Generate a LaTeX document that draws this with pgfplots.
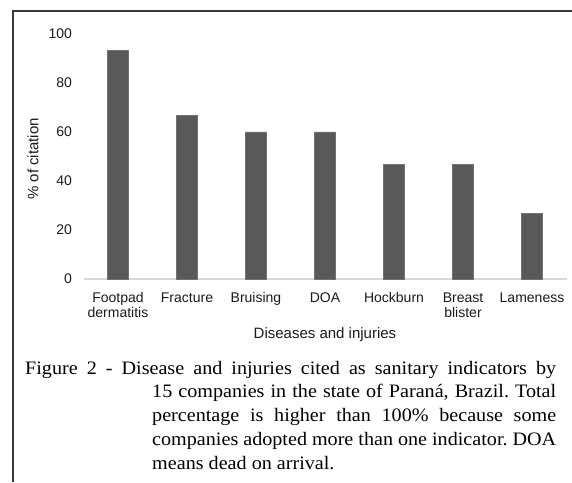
\documentclass[border=0pt]{standalone}
\usepackage{fontspec}
\setmainfont{Liberation Serif}[FakeStretch=1.06]
\newfontfamily\arial{Liberation Sans}
\usepackage{pgfplots}
\pgfplotsset{compat=1.18}
\definecolor{barc}{HTML}{595959}
\definecolor{basec}{HTML}{D9D9D9}
\definecolor{framec}{HTML}{3A3A3A}
\definecolor{txt}{HTML}{1A1A1A}
\begin{document}
\begin{tikzpicture}[x=1pt,y=1pt]
\path[use as bounding box] (0,0) rectangle (572,482);
\draw[framec, line width=1.6pt] (13,0) -- (13,471) -- (572,471);
\begin{axis}[
  at={(83.5pt,203pt)}, anchor=south west,
  scale only axis, width=483pt, height=245pt,
  xmin=-0.5, xmax=6.5, ymin=0, ymax=100,
  axis x line=bottom, axis y line=left,
  x axis line style={draw=basec, line width=1.5pt, -},
  y axis line style={draw=none},
  major tick length=0pt,
  xtick=data,
  xticklabels={{Footpad\\dermatitis},Fracture,Bruising,DOA,Hockburn,{Breast\\blister},Lameness},
  ytick={0,20,40,60,80,100},
  /pgf/number format/assume math mode=true,
  tick label style={font=\arial\fontsize{14}{15}\selectfont, text=txt},
  xticklabel style={align=center, yshift=-10pt},
  yticklabel style={xshift=-8pt},
  xlabel={Diseases and injuries},
  ylabel={\% of citation},
  label style={font=\arial\fontsize{15}{16}\selectfont, text=txt},
  xlabel style={at={(rel axis cs:0.5,0)}, anchor=base, yshift=-59.5pt},
  ylabel style={at={(rel axis cs:0,0.49)}, anchor=center, yshift=50.5pt},
  clip=false,
]
\addplot[ybar, bar width=21pt, fill=barc, draw=barc!85!white] coordinates {
  (0,93.3) (1,66.7) (2,60) (3,60) (4,46.7) (5,46.7) (6,26.7)
};
\end{axis}
\node[anchor=base west, inner sep=0pt] at (25,108) {\parbox[t]{531pt}{\fontsize{19}{23.8}\selectfont
\frenchspacing\tolerance=10000\hyphenpenalty=10000\hangindent=127pt\hangafter=1
Figure 2 - Disease and injuries cited as sanitary indicators by\linebreak
15 companies in the state of Paraná, Brazil. Total\linebreak
percentage is higher than 100\% because some\linebreak
companies adopted more than one indicator. DOA\linebreak
means dead on arrival.}};
\end{tikzpicture}
\end{document}
